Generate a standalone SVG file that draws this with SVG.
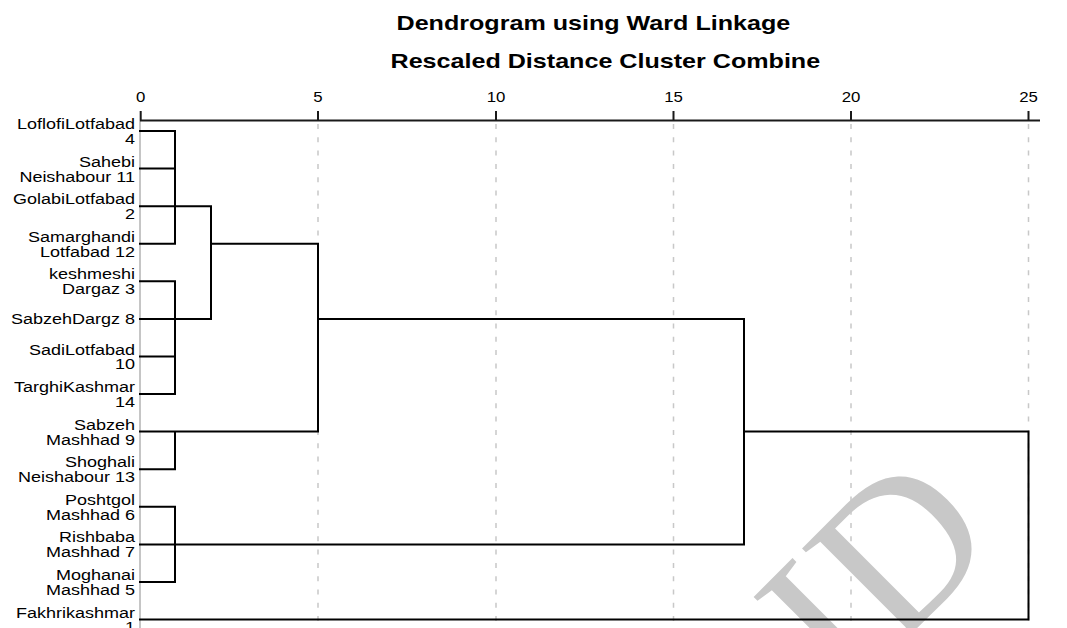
<svg xmlns="http://www.w3.org/2000/svg" width="1067" height="628" viewBox="0 0 1067 628">
<style>
.title{font-family:"Liberation Sans",Arial,sans-serif;font-weight:bold;font-size:20px;fill:#000}
.tick{font-family:"Liberation Sans",Arial,sans-serif;font-size:14px;fill:#000;text-anchor:middle}
.lbl{font-family:"Liberation Sans",Arial,sans-serif;font-size:15px;fill:#000;text-anchor:end}
.grid{stroke:#c8c8c8;stroke-width:1.5;stroke-dasharray:5 8.3;fill:none}
.conn{stroke:#000;stroke-width:2;fill:none;stroke-linecap:square}
.axis{stroke:#1a1a1a;stroke-width:2;fill:none}
.wm{font-family:"Liberation Serif","Times New Roman",serif;font-size:210px;fill:#c8c8c8}
</style>
<rect width="1067" height="628" fill="#fff"/>
<g id="watermark"><text class="wm" transform="translate(895,650) rotate(-45)" x="-70" y="0">ID</text></g>
<g id="titles">
<text class="title" transform="translate(396.5,29.5) scale(1.256,1)">Dendrogram using Ward Linkage</text>
<text class="title" transform="translate(390.5,68) scale(1.256,1)">Rescaled Distance Cluster Combine</text>
</g>
<g id="grid">
<line x1="140" y1="121" x2="140" y2="628" stroke="#8c8c8c" stroke-width="1"/>
<path class="grid" d="M318,124V628M496,124V628M673.5,124V628M851,124V628M1028.5,124V628"/>
</g>
<g id="axis">
<path class="axis" d="M140,120.5H1040M140.7,111V121M318,111V121M496,111V121M673.5,111V121M851,111V121M1028.5,111V121"/>
<text class="tick" transform="translate(140.7,101.5) scale(1.2,1)">0</text>
<text class="tick" transform="translate(318,101.5) scale(1.2,1)">5</text>
<text class="tick" transform="translate(496,101.5) scale(1.2,1)">10</text>
<text class="tick" transform="translate(673.5,101.5) scale(1.2,1)">15</text>
<text class="tick" transform="translate(851,101.5) scale(1.2,1)">20</text>
<text class="tick" transform="translate(1028.5,101.5) scale(1.2,1)">25</text>
</g>
<g id="connectors">
<path class="conn" d="M140,131H175M140,168.6H175M140,206.2H211M140,243.7H175M175,131V243.7
M140,281.3H175M140,318.9H211M140,356.5H175M140,394.1H175M175,281.3V394.1
M211,206.2V318.9M211,243.7H318
M140,431.6H318M140,469.2H175M175,431.6V469.2
M318,243.7V431.6M318,318.9H744
M140,506.8H175M140,544.4H744M140,582H175M175,506.8V582
M744,318.9V544.4M744,431.6H1028.5
M140,619.5H1028.5M1028.5,431.6V619.5"/>
</g>
<g id="leaf-4"><text class="lbl" transform="translate(135,129) scale(1.2,1)"><tspan x="0" y="0">LoflofiLotfabad</tspan><tspan x="0" y="15">4</tspan></text></g>
<g id="leaf-11"><text class="lbl" transform="translate(135,166.6) scale(1.2,1)"><tspan x="0" y="0">Sahebi</tspan><tspan x="0" y="15">Neishabour 11</tspan></text></g>
<g id="leaf-2"><text class="lbl" transform="translate(135,204.2) scale(1.2,1)"><tspan x="0" y="0">GolabiLotfabad</tspan><tspan x="0" y="15">2</tspan></text></g>
<g id="leaf-12"><text class="lbl" transform="translate(135,241.7) scale(1.2,1)"><tspan x="0" y="0">Samarghandi</tspan><tspan x="0" y="15">Lotfabad 12</tspan></text></g>
<g id="leaf-3"><text class="lbl" transform="translate(135,279.3) scale(1.2,1)"><tspan x="0" y="0">keshmeshi</tspan><tspan x="0" y="15">Dargaz 3</tspan></text></g>
<g id="leaf-8"><text class="lbl" transform="translate(135,324.2) scale(1.2,1)">SabzehDargz 8</text></g>
<g id="leaf-10"><text class="lbl" transform="translate(135,354.5) scale(1.2,1)"><tspan x="0" y="0">SadiLotfabad</tspan><tspan x="0" y="15">10</tspan></text></g>
<g id="leaf-14"><text class="lbl" transform="translate(135,392.1) scale(1.2,1)"><tspan x="0" y="0">TarghiKashmar</tspan><tspan x="0" y="15">14</tspan></text></g>
<g id="leaf-9"><text class="lbl" transform="translate(135,429.6) scale(1.2,1)"><tspan x="0" y="0">Sabzeh</tspan><tspan x="0" y="15">Mashhad 9</tspan></text></g>
<g id="leaf-13"><text class="lbl" transform="translate(135,467.2) scale(1.2,1)"><tspan x="0" y="0">Shoghali</tspan><tspan x="0" y="15">Neishabour 13</tspan></text></g>
<g id="leaf-6"><text class="lbl" transform="translate(135,504.8) scale(1.2,1)"><tspan x="0" y="0">Poshtgol</tspan><tspan x="0" y="15">Mashhad 6</tspan></text></g>
<g id="leaf-7"><text class="lbl" transform="translate(135,542.4) scale(1.2,1)"><tspan x="0" y="0">Rishbaba</tspan><tspan x="0" y="15">Mashhad 7</tspan></text></g>
<g id="leaf-5"><text class="lbl" transform="translate(135,580) scale(1.2,1)"><tspan x="0" y="0">Moghanai</tspan><tspan x="0" y="15">Mashhad 5</tspan></text></g>
<g id="leaf-1"><text class="lbl" transform="translate(135,617.5) scale(1.2,1)"><tspan x="0" y="0">Fakhrikashmar</tspan><tspan x="0" y="15">1</tspan></text></g>
</svg>
